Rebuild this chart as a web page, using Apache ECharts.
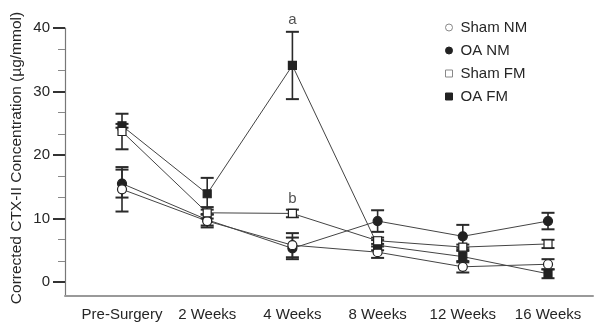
<!DOCTYPE html>
<html>
<head>
<meta charset="utf-8">
<script src="https://cdn.jsdelivr.net/npm/echarts@6/dist/echarts.min.js"></script>
<style>
  html, body { margin: 0; padding: 0; background: #fff; }
  #chart { width: 600px; height: 323px; }
</style>
</head>
<body>
<div id="chart"></div>
<script>
// categorías del eje x
var categories = ['Pre-Surgery', '2 Weeks', '4 Weeks', '8 Weeks', '12 Weeks', '16 Weeks'];

// medias y errores
var shamNM = [14.6, 9.6, 5.8, 4.7, 2.4, 2.8];
var shamNMErr = [3.5, 1.0, 1.9, 0.9, 0.9, 0.8];
var oaNM = [15.5, 9.8, 5.3, 9.6, 7.2, 9.6];
var oaNMErr = [2.2, 0.9, 1.7, 1.7, 1.8, 1.3];
var shamFM = [23.7, 10.9, 10.8, 6.5, 5.5, 6.0];
var shamFMErr = [2.8, 0.9, 0.6, 0.5, 0.4, 0.65];
var oaFM = [24.6, 13.9, 34.1, 5.8, 4.0, 1.3];
var oaFMErr = [0.3, 2.5, 5.3, 0.8, 0.9, 0.7];

// ticks del eje y
var yLabels = [0, 10, 20, 30, 40];
var yMinor = [10 / 3, 20 / 3, 40 / 3, 50 / 3, 70 / 3, 80 / 3, 100 / 3, 110 / 3];

// letras de significancia
var notes = ['a', 'b'];

var FONT = 'Liberation Sans, Arial, sans-serif';
var INK = '#262626';

function puntos(vals) {
  return vals.map(function (v, i) { return [i, v]; });
}

function barras(vals, errs) {
  return vals.map(function (v, i) { return [i, v, errs[i]]; });
}

// barras de error con custom series
function dibujarError(params, api) {
  var x = api.value(0), y = api.value(1), e = api.value(2);
  var top = api.coord([x, y + e]);
  var bot = api.coord([x, y - e]);
  var w = 6.5;
  var st = { stroke: '#2a2a2a', lineWidth: 1.6 };
  return {
    type: 'group',
    children: [
      { type: 'line', shape: { x1: top[0], y1: top[1], x2: bot[0], y2: bot[1] }, style: st },
      { type: 'line', shape: { x1: top[0] - w, y1: top[1], x2: top[0] + w, y2: top[1] }, style: { stroke: '#2a2a2a', lineWidth: 2 } },
      { type: 'line', shape: { x1: bot[0] - w, y1: bot[1], x2: bot[0] + w, y2: bot[1] }, style: { stroke: '#2a2a2a', lineWidth: 2 } }
    ]
  };
}

function serieError(name, vals, errs) {
  return {
    name: name + ' err',
    type: 'custom',
    z: 1,
    renderItem: dibujarError,
    data: barras(vals, errs),
    silent: true
  };
}

function serieLinea(name, vals, symbol, size, relleno) {
  return {
    name: name,
    type: 'line',
    z: 2,
    data: puntos(vals),
    symbol: symbol,
    symbolSize: size,
    showAllSymbol: true,
    lineStyle: { color: '#444', width: 1 },
    itemStyle: { color: relleno, borderColor: '#222', borderWidth: 1.2 },
    emphasis: { disabled: true }
  };
}

var chart = echarts.init(document.getElementById('chart'), null, { renderer: 'canvas' });

var option = {
  animation: false,
  backgroundColor: '#fff',
  textStyle: { fontFamily: FONT },
  grid: { left: 65, right: 7, top: 28, bottom: 27 },
  legend: {
    orient: 'vertical',
    left: 440,
    top: 15,
    itemWidth: 7,
    itemHeight: 7,
    itemGap: 8,
    selectedMode: false,
    textStyle: { fontSize: 15, color: INK, fontFamily: FONT, padding: [0, 0, 0, 3] },
    data: [
      { name: 'Sham NM', icon: 'circle', itemStyle: { color: '#fff', borderColor: '#888', borderWidth: 1 } },
      { name: 'OA NM', icon: 'circle', itemStyle: { color: '#222', borderColor: '#222', borderWidth: 1 } },
      { name: 'Sham FM', icon: 'rect', itemStyle: { color: '#fff', borderColor: '#888', borderWidth: 1 } },
      { name: 'OA FM', icon: 'rect', itemStyle: { color: '#222', borderColor: '#222', borderWidth: 1 } }
    ]
  },
  xAxis: {
    type: 'value',
    min: -0.669,
    max: 5.528,
    axisLine: { show: true, onZero: false, lineStyle: { color: '#999', width: 2 } },
    axisTick: { show: false },
    splitLine: { show: false },
    axisLabel: {
      customValues: [0, 1, 2, 3, 4, 5],
      formatter: function (v) { return categories[Math.round(v)]; },
      fontSize: 15,
      color: INK,
      margin: 11,
      fontFamily: FONT
    }
  },
  yAxis: [
    {
      type: 'value',
      min: -2.2,
      max: 40,
      axisLine: { show: true, onZero: false, lineStyle: { color: '#777', width: 1.2 } },
      axisTick: { show: true, customValues: yLabels, length: 12, lineStyle: { color: '#333', width: 2 } },
      axisLabel: { customValues: yLabels, fontSize: 15, color: INK, margin: 15, fontFamily: FONT },
      splitLine: { show: false }
    },
    {
      type: 'value',
      min: -2.2,
      max: 40,
      position: 'left',
      axisLine: { show: false, onZero: false },
      axisTick: { show: true, customValues: yMinor, length: 7, lineStyle: { color: '#888', width: 1 } },
      axisLabel: { show: false },
      splitLine: { show: false }
    }
  ],
  graphic: [
    {
      type: 'text',
      x: 17,
      y: 158,
      rotation: Math.PI / 2,
      style: {
        text: 'Corrected CTX-II Concentration (\u00b5g/mmol)',
        font: '15.5px ' + FONT,
        fill: INK,
        textAlign: 'center',
        textVerticalAlign: 'middle'
      }
    }
  ],
  series: [
    serieError('OA NM', oaNM, oaNMErr),
    serieError('Sham NM', shamNM, shamNMErr),
    serieError('OA FM', oaFM, oaFMErr),
    serieError('Sham FM', shamFM, shamFMErr),
    serieLinea('OA NM', oaNM, 'circle', 9, '#222'),
    serieLinea('Sham NM', shamNM, 'circle', 9, '#fff'),
    serieLinea('OA FM', oaFM, 'rect', 8, '#222'),
    serieLinea('Sham FM', shamFM, 'rect', 8, '#fff'),
    {
      name: 'notas',
      type: 'scatter',
      z: 3,
      symbolSize: 0,
      silent: true,
      data: [
        { value: [2, oaFM[2] + oaFMErr[2]], label: { formatter: notes[0], distance: 4 } },
        { value: [2, shamFM[2] + shamFMErr[2]], label: { formatter: notes[1], distance: 3 } }
      ],
      label: { show: true, position: 'top', fontSize: 15, color: INK, fontFamily: FONT }
    }
  ]
};

chart.setOption(option);
</script>
</body>
</html>
